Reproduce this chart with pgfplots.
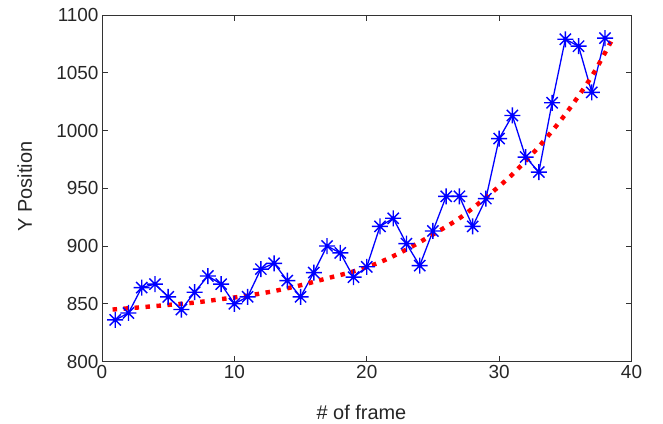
\documentclass[border=0pt]{standalone}
\usepackage{fontspec}
\setmainfont{Liberation Sans}
\usepackage{pgfplots}
\pgfplotsset{compat=1.18}

% MATLAB-style '*' marker: a plus and a cross on top of each other
\pgfdeclareplotmark{mstar}{%
  \pgfpathmoveto{\pgfqpoint{-\pgfplotmarksize}{0pt}}%
  \pgfpathlineto{\pgfqpoint{\pgfplotmarksize}{0pt}}%
  \pgfpathmoveto{\pgfqpoint{0pt}{-\pgfplotmarksize}}%
  \pgfpathlineto{\pgfqpoint{0pt}{\pgfplotmarksize}}%
  \pgfpathmoveto{\pgfqpoint{-0.7\pgfplotmarksize}{-0.7\pgfplotmarksize}}%
  \pgfpathlineto{\pgfqpoint{0.7\pgfplotmarksize}{0.7\pgfplotmarksize}}%
  \pgfpathmoveto{\pgfqpoint{-0.7\pgfplotmarksize}{0.7\pgfplotmarksize}}%
  \pgfpathlineto{\pgfqpoint{0.7\pgfplotmarksize}{-0.7\pgfplotmarksize}}%
  \pgfusepathqstroke}

\pgfplotstableread{
x y
1 836
2 842
3 864
4 867
5 856
6 845
7 860
8 874
9 867
10 850
11 856
12 880
13 885
14 870
15 856
16 877
17 900
18 894
19 873
20 882
21 917
22 924
23 902
24 883
25 913
26 943
27 943
28 917
29 941
30 993
31 1013
32 977
33 964
34 1024
35 1079
36 1073
37 1033
38 1080
}\measured

\pgfplotstableread{
x y
0.8 845
3 847
5 849
7 851
9 854
11 857
13 861
15 866
17 872
19 878
21 886
23 897
25 910
27 924
29 942
31 962
33 986
35 1014
37 1047
38.5 1078
}\fitted

\begin{document}
\begin{tikzpicture}[x=1bp,y=1bp]
\path[use as bounding box] (0,0) rectangle (663,423);
\begin{axis}[
  at={(102bp,61.5bp)}, anchor=south west,
  scale only axis, width=529.5bp, height=346.5bp,
  xmin=0, xmax=40, ymin=800, ymax=1100,
  xtick={0,10,...,40}, ytick={800,850,...,1100},
  tick align=inside, major tick length=5.5bp,
  axis line style={line width=1bp, black!80},
  every tick/.style={line width=1bp, black!80},
  /pgf/number format/1000 sep={},
  /pgf/number format/assume math mode=true,
  ticklabel style={font=\fontsize{19}{19}\selectfont, text=black!85},
  label style={font=\fontsize{20}{20}\selectfont, text=black!85},
  xlabel={\# of frame}, ylabel={Y Position},
  xlabel style={at={(axis description cs:0.49,-0.166)}, anchor=base},
  ylabel style={at={(axis description cs:-0.1322,0.505)}, anchor=base},
  clip=false,
]
\addplot[blue, line width=1.3bp, mark=mstar, mark size=8bp,
  mark options={line width=1.4bp}] table {\measured};
\addplot[red, line width=4.4bp, dash pattern=on 4.5bp off 6.5bp, smooth]
  table {\fitted};
\end{axis}
\end{tikzpicture}
\end{document}
